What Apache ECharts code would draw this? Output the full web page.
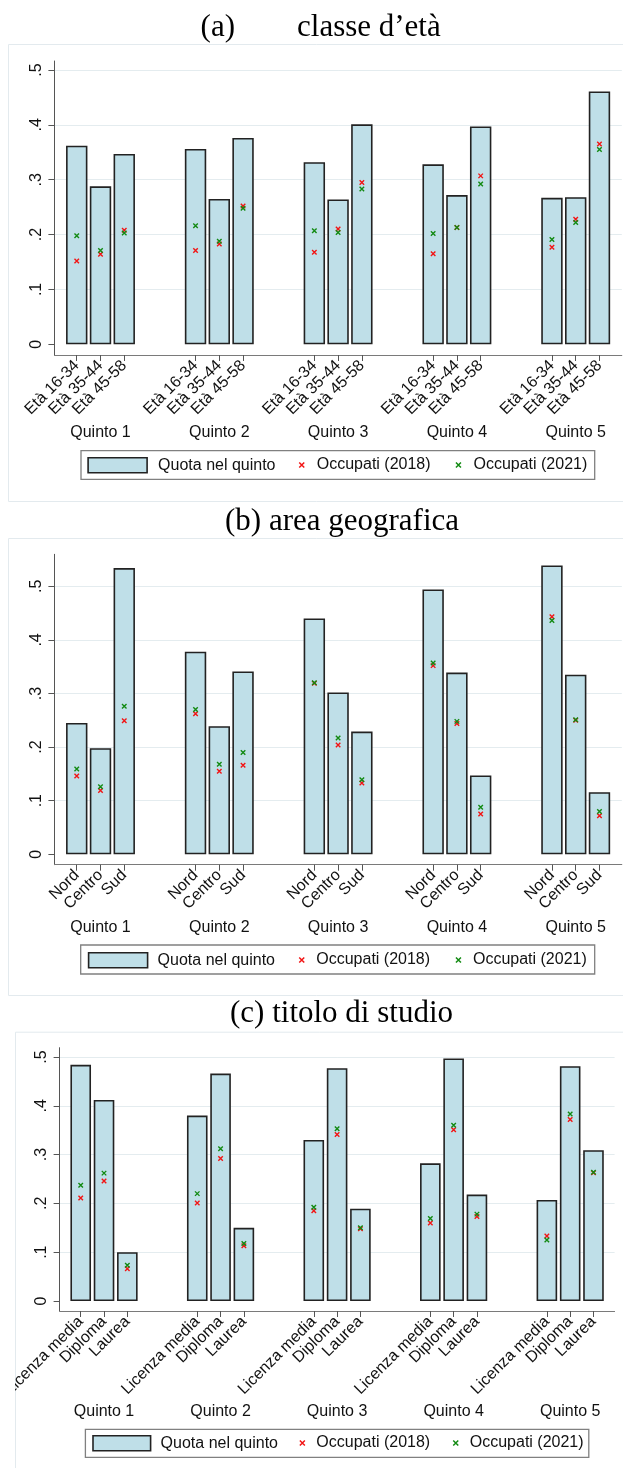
<!DOCTYPE html>
<html>
<head>
<meta charset="utf-8">
<script src="https://cdn.jsdelivr.net/npm/echarts@6/dist/echarts.min.js"></script>
<style>
  html, body { margin: 0; padding: 0; background: #fff; width: 623px; height: 1468px; overflow: hidden; }
  .panel { position: absolute; overflow: hidden; }
</style>
</head>
<body>
<div id="panelA" class="panel"></div>
<div id="panelB" class="panel"></div>
<div id="panelC" class="panel"></div>
<script>
// Group and sub-group labels
const quintiles = ['Quinto 1', 'Quinto 2', 'Quinto 3', 'Quinto 4', 'Quinto 5'];
const ageLabels = ['Età 16-34', 'Età 35-44', 'Età 45-58'];
const areaLabels = ['Nord', 'Centro', 'Sud'];
const eduLabels = ['Licenza media', 'Diploma', 'Laurea'];
const yTickValues = [0, 0.1, 0.2, 0.3, 0.4, 0.5];
const yGridValues = [0.1, 0.2, 0.3, 0.4, 0.5];

// (a) classe d'età — one row per quintile
const shareAge = [
  [0.362, 0.288, 0.347],
  [0.356, 0.265, 0.376],
  [0.332, 0.264, 0.401],
  [0.328, 0.272, 0.397],
  [0.267, 0.268, 0.461]
];
const emp2018Age = [
  [0.152, 0.164, 0.208],
  [0.171, 0.183, 0.252],
  [0.168, 0.210, 0.295],
  [0.165, 0.213, 0.307],
  [0.177, 0.228, 0.365]
];
const emp2021Age = [
  [0.198, 0.171, 0.203],
  [0.216, 0.188, 0.248],
  [0.207, 0.204, 0.283],
  [0.202, 0.213, 0.292],
  [0.191, 0.222, 0.355]
];

// (b) area geografica
const shareArea = [
  [0.245, 0.198, 0.534],
  [0.378, 0.239, 0.341],
  [0.440, 0.302, 0.229],
  [0.494, 0.339, 0.147],
  [0.539, 0.335, 0.116]
];
const emp2018Area = [
  [0.146, 0.119, 0.249],
  [0.262, 0.155, 0.166],
  [0.319, 0.204, 0.133],
  [0.352, 0.244, 0.075],
  [0.443, 0.250, 0.072]
];
const emp2021Area = [
  [0.159, 0.126, 0.276],
  [0.270, 0.168, 0.190],
  [0.320, 0.217, 0.139],
  [0.357, 0.248, 0.088],
  [0.436, 0.251, 0.080]
];

// (c) titolo di studio
const shareEdu = [
  [0.484, 0.412, 0.100],
  [0.380, 0.466, 0.150],
  [0.330, 0.477, 0.189],
  [0.282, 0.497, 0.218],
  [0.207, 0.481, 0.309]
];
const emp2018Edu = [
  [0.211, 0.246, 0.066],
  [0.201, 0.292, 0.113],
  [0.185, 0.341, 0.148],
  [0.160, 0.351, 0.173],
  [0.133, 0.372, 0.263]
];
const emp2021Edu = [
  [0.237, 0.262, 0.073],
  [0.220, 0.312, 0.118],
  [0.192, 0.353, 0.150],
  [0.169, 0.360, 0.178],
  [0.125, 0.383, 0.264]
];

const BAR_FILL = '#bfdfe8';
const BAR_EDGE = '#222';
const RED = '#f21414';
const GREEN = '#128a12';
const SANS = '"Liberation Sans", Arial, sans-serif';
const SERIF = '"Liberation Serif", "Times New Roman", serif';
const CROSS = 'path://M0 0L10 10M10 0L0 10';
const SLOTS = 5; // three bars plus two empty slots per quintile

const slotOf = (g, s) => g * SLOTS + s;
const toPoints = rows => rows.flatMap((row, g) => row.map((v, s) => [slotOf(g, s), v]));
const subTicks = quintiles.flatMap((q, g) => [0, 1, 2].map(s => slotOf(g, s)));
const groupTicks = quintiles.map((q, g) => slotOf(g, 1));

function buildPanel(id, c) {
  const el = document.getElementById(id);
  const W = 623 - c.left;
  el.style.left = c.left + 'px';
  el.style.top = c.top + 'px';
  el.style.width = W + 'px';
  el.style.height = c.height + 'px';
  const H = c.height;
  const X = x => x - c.left;
  const Y = y => y - c.top;
  const chart = echarts.init(el, null, { renderer: 'canvas' });

  const markerLegend = (name, color, cx) => ({
    data: [{ name }],
    selectedMode: false,
    orient: 'horizontal',
    left: X(cx) - 2.5,
    top: Y(c.legendY) - 8,
    padding: 0,
    itemWidth: 5,
    itemHeight: 5,
    icon: CROSS,
    itemStyle: { color, borderColor: color, borderWidth: 1.5 },
    textStyle: { fontFamily: SANS, fontSize: 16, color: '#111', lineHeight: 16, padding: [0, 0, 0, c.markerTextGap] }
  });

  const option = {
    animation: false,
    grid: {
      left: X(c.gridL), right: W - X(c.gridR), top: Y(c.gridT), bottom: H - Y(c.gridB),
      containLabel: false, outerBoundsMode: 'none'
    },
    xAxis: [
      {
        type: 'value', min: c.xMin, max: c.xMax,
        axisLine: { show: true, onZero: false, lineStyle: { color: '#7a7a7a', width: 1 } },
        axisTick: { show: true, customValues: subTicks, length: 6, lineStyle: { color: '#555', width: 1 } },
        axisLabel: {
          customValues: subTicks, rotate: 45, margin: c.labelMargin,
          formatter: v => c.sub[Math.round(v) % SLOTS],
          fontFamily: SANS, fontSize: c.fontSize, color: '#111'
        },
        splitLine: { show: false }
      },
      {
        type: 'value', min: c.xMin, max: c.xMax, position: 'bottom',
        axisLine: { show: false, onZero: false },
        axisTick: { show: false, customValues: groupTicks },
        axisLabel: {
          customValues: groupTicks, margin: c.groupMargin,
          formatter: v => quintiles[Math.round((v - 1) / SLOTS)],
          fontFamily: SANS, fontSize: 16, color: '#111'
        },
        splitLine: { show: false }
      }
    ],
    yAxis: [
      {
        type: 'value', min: c.yMin, max: c.yMax,
        axisLine: { show: true, onZero: false, lineStyle: { color: '#555', width: 1 } },
        axisTick: { show: true, customValues: yTickValues, length: 6, lineStyle: { color: '#555', width: 1 } },
        axisLabel: {
          customValues: yTickValues, rotate: 90, margin: 10,
          formatter: v => (v === 0 ? '0' : '.' + Math.round(v * 10)),
          fontFamily: SANS, fontSize: 16, color: '#111'
        },
        splitLine: { show: false }
      },
      {
        type: 'value', min: c.yMin, max: c.yMax,
        axisLine: { show: false, onZero: false },
        axisTick: { show: false, customValues: yGridValues },
        axisLabel: { show: false, customValues: yGridValues },
        splitLine: { show: true, lineStyle: { color: '#e4ecef', width: 1 } }
      }
    ],
    legend: [
      {
        data: [{ name: 'Quota nel quinto' }],
        selectedMode: false,
        left: X(c.swatchX), top: Y(c.legendY) - 8, padding: 0,
        itemWidth: c.swatchW, itemHeight: 15, icon: 'rect',
        itemStyle: { color: BAR_FILL, borderColor: BAR_EDGE, borderWidth: 1.6 },
        textStyle: { fontFamily: SANS, fontSize: 16, color: '#111', lineHeight: 16, padding: [0, 0, 0, c.swatchTextGap] }
      },
      markerLegend('Occupati (2018)', RED, c.redX),
      markerLegend('Occupati (2021)', GREEN, c.greenX)
    ],
    graphic: [
      {
        type: 'rect', z: -10, silent: true,
        shape: { x: X(c.boxL) + 0.5, y: Y(c.boxT) + 0.5, width: W + 20, height: (c.boxB ? c.boxB : c.top + H + 20) - c.boxT },
        style: { fill: 'none', stroke: '#e3eaee', lineWidth: 1 }
      },
      {
        type: 'text', silent: true, x: X(c.titleX), y: Y(c.titleY),
        style: { text: c.title, font: '31px ' + SERIF, fill: '#000', verticalAlign: 'middle', align: 'left' }
      },
      {
        type: 'rect', silent: true, z: -5,
        shape: { x: X(c.legendBox[0]), y: Y(c.legendBox[2]), width: c.legendBox[1] - c.legendBox[0], height: c.legendBox[3] - c.legendBox[2] },
        style: { fill: '#fff', stroke: '#808080', lineWidth: 1.3 }
      }
    ],
    series: [
      {
        name: 'Quota nel quinto', type: 'bar', xAxisIndex: 0, yAxisIndex: 0,
        barWidth: c.barWidth, data: toPoints(c.share),
        itemStyle: { color: BAR_FILL, borderColor: BAR_EDGE, borderWidth: 1.6 },
        emphasis: { disabled: true }, z: 2
      },
      {
        name: 'Occupati (2018)', type: 'scatter', xAxisIndex: 0, yAxisIndex: 0,
        symbol: CROSS, symbolSize: 4.5, data: toPoints(c.emp18),
        itemStyle: { color: RED, borderColor: RED, borderWidth: 1.4, opacity: 1 },
        emphasis: { disabled: true }, z: 3
      },
      {
        name: 'Occupati (2021)', type: 'scatter', xAxisIndex: 0, yAxisIndex: 0,
        symbol: CROSS, symbolSize: 4.5, data: toPoints(c.emp21),
        itemStyle: { color: GREEN, borderColor: GREEN, borderWidth: 1.4, opacity: 1 },
        emphasis: { disabled: true }, z: 4
      }
    ]
  };
  chart.setOption(option);
}

buildPanel('panelA', {
  left: 8, top: 0, height: 503,
  boxL: 8, boxT: 44, boxB: 501,
  title: '(a)        classe d\u2019età', titleX: 200.6, titleY: 28,
  gridL: 54.4, gridR: 621.8, gridT: 61, gridB: 355,
  yMin: -0.0195, yMax: 0.5164, xMin: -0.94, xMax: 22.94,
  barWidth: 21.4, fontSize: 16, labelMargin: 8, groupMargin: 70,
  sub: ageLabels, share: shareAge, emp18: emp2018Age, emp21: emp2021Age,
  legendBox: [81, 594.7, 450.7, 479.3], legendY: 465,
  swatchX: 87.3, swatchW: 59, swatchTextGap: 6,
  redX: 301, greenX: 457.7, markerTextGap: 7.5
});

buildPanel('panelB', {
  left: 8, top: 503, height: 494,
  boxL: 8, boxT: 538, boxB: 995,
  title: '(b) area geografica', titleX: 225, titleY: 521.7,
  gridL: 54.4, gridR: 621.8, gridT: 554.3, gridB: 864.7,
  yMin: -0.0194, yMax: 0.5597, xMin: -0.94, xMax: 22.94,
  barWidth: 21.4, fontSize: 16, labelMargin: 8, groupMargin: 55,
  sub: areaLabels, share: shareArea, emp18: emp2018Area, emp21: emp2021Area,
  legendBox: [80.7, 594.7, 945, 974], legendY: 960,
  swatchX: 87.8, swatchW: 59, swatchTextGap: 5,
  redX: 301, greenX: 457.7, markerTextGap: 7
});

buildPanel('panelC', {
  left: 15, top: 997, height: 471,
  boxL: 15, boxT: 1031.7, boxB: null,
  title: '(c) titolo di studio', titleX: 230, titleY: 1014.3,
  gridL: 59.6, gridR: 614.6, gridT: 1047.7, gridB: 1311,
  yMin: -0.0205, yMax: 0.519, xMin: -0.906, xMax: 22.906,
  barWidth: 20.6, fontSize: 16, labelMargin: 8, groupMargin: 92.7,
  sub: eduLabels, share: shareEdu, emp18: emp2018Edu, emp21: emp2021Edu,
  legendBox: [85.4, 588.8, 1429.3, 1457.3], legendY: 1443,
  swatchX: 92.2, swatchW: 57.6, swatchTextGap: 5,
  redX: 301.6, greenX: 455, markerTextGap: 6.5
});
</script>
</body>
</html>
